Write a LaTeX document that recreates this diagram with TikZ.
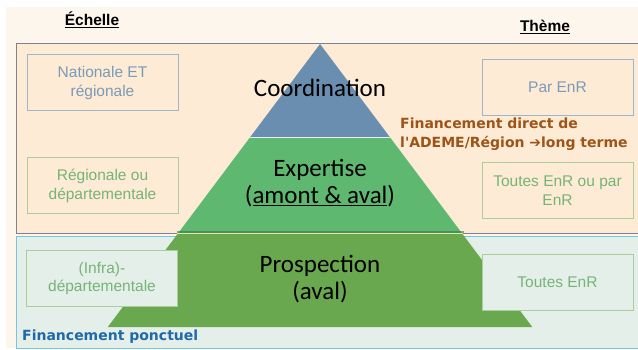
\documentclass[tikz,border=0pt]{standalone}
\usepackage{fontspec}
\setmainfont{Liberation Sans}
\newfontfamily\calib{Carlito}
\newfontfamily\verd{DejaVu Sans}
\usetikzlibrary{positioning}

\definecolor{creme}{RGB}{253,246,236}
\definecolor{peche}{RGB}{253,235,213}
\definecolor{grisvert}{RGB}{229,239,234}
\definecolor{bordgris}{RGB}{128,128,142}
\definecolor{bordbleu}{RGB}{120,195,222}
\definecolor{niv1}{RGB}{106,142,176}
\definecolor{niv2}{RGB}{94,184,112}
\definecolor{niv3}{RGB}{106,168,80}
\definecolor{txtbleu}{RGB}{122,154,184}
\definecolor{txtvert}{RGB}{118,180,118}
\definecolor{cadrebleu}{RGB}{158,182,202}
\definecolor{cadrevert}{RGB}{168,206,156}
\definecolor{brun}{RGB}{158,84,24}
\definecolor{bleufin}{RGB}{30,105,170}
\definecolor{joint}{RGB}{232,232,160}

\begin{document}
\begin{tikzpicture}[x=1pt, y=-1pt, node distance=46pt]
      \useasboundingbox (0,0) rectangle (638,350);
      \clip (0,0) rectangle (638,350);

      % Define the styles for the boxes
      \tikzstyle{cadre}=[draw, line width=1pt, minimum width=151pt, minimum height=56pt,
        inner sep=2pt, align=center, font=\fontsize{15.5}{18.5}\selectfont]
      \tikzstyle{cadrehaut}=[cadre, draw=cadrebleu, text=txtbleu]
      \tikzstyle{cadremilieu}=[cadre, draw=cadrevert, text=txtvert]
      \tikzstyle{cadrebas}=[cadre, draw=cadrevert, text=txtvert, fill=grisvert]
      \tikzstyle{niveau}=[font=\calib\fontsize{25}{27}\selectfont, align=center, inner sep=0pt]
      \tikzstyle{titre}=[font=\bfseries\fontsize{15.5}{18}\selectfont, inner sep=0pt, anchor=base]

      % Background and zones
      \fill[creme] (6,7) rectangle (645,348);
      \draw[bordgris, fill=peche] (16,43) rectangle (645,233);
      \draw[bordbleu, fill=grisvert] (16,236) rectangle (645,348);

      % Pyramid
      \coordinate (sommet) at (320,44);
      \coordinate (g1) at (250.25,137);
      \coordinate (d1) at (389.75,137);
      \coordinate (g2) at (177.5,234);
      \coordinate (d2) at (462.5,234);
      \coordinate (g3) at (107.75,327);
      \coordinate (d3) at (532.25,327);
      \fill[niv3] (g2) -- (d2) -- (d3) -- (g3) -- cycle;
      \fill[niv2] (g1) -- (d1) -- (d2) -- (g2) -- cycle;
      \fill[niv1] (sommet) -- (d1) -- (g1) -- cycle;
      \draw[white!85!niv1, line width=0.8pt] (g1) -- (d1);
      \draw[joint, line width=0.8pt] ([xshift=-0.5pt, yshift=0.5pt]g2) -- ([xshift=0.5pt, yshift=0.5pt]d2);
      \draw[niv3!60!teal!80!black, line width=1.6pt, opacity=0.6] ([xshift=-1pt, yshift=1.8pt]g2) -- ([xshift=1pt, yshift=1.8pt]d2);

      % Boxes
      \node[cadrehaut] (nat) at (102.5,83) {Nationale ET\\régionale};
      \node[cadremilieu] (reg) [below=46pt of nat] {Régionale ou\\départementale};
      \node[cadrebas] (infra) at (102,278.5) {(Infra)-\\départementale};
      \node[cadrehaut] (parenr) at (557.5,87.5) {Par EnR};
      \node[cadremilieu] (toutpar) [below=46pt of parenr] {Toutes EnR ou par\\EnR};
      \node[cadrebas] (toutes) at (557.5,282.5) {Toutes EnR};

      % Headers
      \node[titre] (echelle) at (92,26) {\underline{Échelle}};
      \node[titre] (theme) at (545,32) {\underline{Thème}};

      % Pyramid labels
      \node[niveau] (coord) at (320,88) {Coordination};
      \node[niveau] (expert) at (320,183) {Expertise\\(\underline{amont \& aval})};
      \node[niveau] (prosp) at (320,279) {Prospection\\(aval)};

      % Funding labels
      \node[anchor=west, align=left, inner sep=0pt, text=brun,
        font=\verd\bfseries\fontsize{14}{19}\selectfont] (direct) at (400,134)
        {Financement direct de\\l\textquotesingle ADEME/Région ➔long terme};
      \node[anchor=base west, inner sep=0pt, text=bleufin,
        font=\verd\bfseries\fontsize{14}{17}\selectfont] (ponct) at (22,340)
        {Financement ponctuel};

    \end{tikzpicture}
\end{document}
